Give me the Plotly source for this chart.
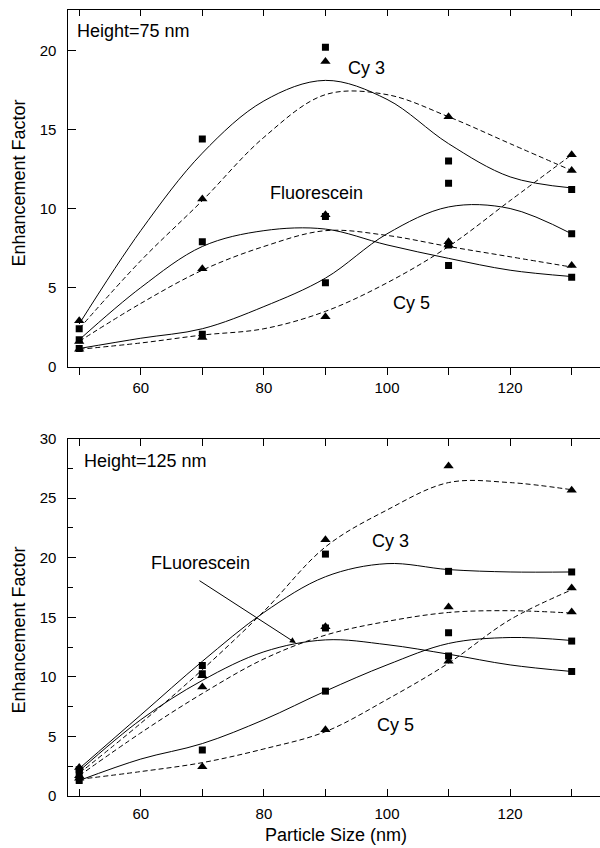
import plotly.graph_objects as go

# Particle sizes where enhancement was measured (nm)
sizes = [50, 70, 90, 110, 130]
# Sizes at which the smooth fit curves are sampled (nm)
fit_sizes = [50, 60, 70, 80, 90, 100, 110, 120, 130]

# ---- Height = 75 nm ----
cy3_sq_75 = [2.4, 14.4, 20.2, 13.0, 11.2]
cy3_sq_75_extra_x = [110]
cy3_sq_75_extra = [11.6]
cy3_tr_75 = [2.9, 10.6, 19.3, 15.8, 12.4]
fl_sq_75 = [1.7, 7.9, 9.5, 6.4, 5.65]
fl_tr_75 = [1.6, 6.2, 9.6, 7.9, 6.4]
cy5_sq_75 = [1.15, 2.05, 5.3, 7.7, 8.4]
cy5_tr_75 = [1.1, 1.85, 3.15, 7.7, 13.4]

cy3_fit_sq_75 = [2.7, 8.6, 13.5, 16.8, 18.1, 16.9, 14.1, 12.0, 11.3]
cy3_fit_tr_75 = [2.4, 6.7, 10.5, 14.5, 17.2, 17.2, 15.8, 14.1, 12.4]
fl_fit_sq_75 = [1.7, 5.0, 7.6, 8.6, 8.7, 7.7, 6.85, 6.1, 5.7]
fl_fit_tr_75 = [1.6, 4.0, 6.1, 7.6, 8.6, 8.3, 7.6, 6.95, 6.3]
cy5_fit_sq_75 = [1.15, 1.8, 2.4, 3.8, 5.6, 8.4, 10.1, 10.0, 8.4]
cy5_fit_tr_75 = [1.1, 1.5, 2.0, 2.4, 3.5, 5.3, 7.6, 10.5, 13.4]

# ---- Height = 125 nm ----
cy3_sq_125 = [2.2, 10.95, 20.3, 18.85, 18.8]
cy3_tr_125 = [2.4, 10.1, 21.5, 27.7, 25.65]
fl_sq_125 = [1.9, 10.25, 14.1, 11.75, 10.45]
fl_tr_125 = [1.7, 9.15, 14.2, 15.85, 15.45]
cy5_sq_125 = [1.3, 3.85, 8.8, 13.7, 13.0]
cy5_tr_125 = [1.5, 2.45, 5.55, 11.3, 17.45]

cy3_fit_sq_125 = [2.3, 6.8, 11.3, 15.4, 18.4, 19.5, 19.0, 18.8, 18.8]
cy3_fit_tr_125 = [1.9, 6.1, 10.6, 15.5, 20.9, 24.0, 26.3, 26.3, 25.7]
fl_fit_sq_125 = [2.1, 6.4, 9.7, 12.1, 13.1, 12.7, 11.9, 11.0, 10.45]
fl_fit_tr_125 = [1.7, 5.3, 8.6, 11.5, 13.5, 14.65, 15.4, 15.55, 15.35]
cy5_fit_sq_125 = [1.3, 3.1, 4.4, 6.4, 8.8, 11.0, 12.8, 13.3, 13.05]
cy5_fit_tr_125 = [1.4, 2.05, 2.8, 3.95, 5.4, 8.1, 11.15, 14.8, 17.3]

FONT = "Liberation Sans, Arial, Helvetica, sans-serif"
W, H = 600, 848

fig = go.Figure()


def add_panel(xa, ya, fits_solid, fits_dash, pts_sq, pts_tr):
    for ys in fits_solid:
        fig.add_trace(go.Scatter(x=fit_sizes, y=ys, mode="lines", xaxis=xa, yaxis=ya,
                                 line=dict(color="black", width=1, shape="spline", smoothing=1.0),
                                 showlegend=False, hoverinfo="skip"))
    for ys in fits_dash:
        fig.add_trace(go.Scatter(x=fit_sizes, y=ys, mode="lines", xaxis=xa, yaxis=ya,
                                 line=dict(color="black", width=1, dash="5px,3px",
                                           shape="spline", smoothing=1.0),
                                 showlegend=False, hoverinfo="skip"))
    for xs, ys in pts_sq:
        fig.add_trace(go.Scatter(x=xs, y=ys, mode="markers", xaxis=xa, yaxis=ya,
                                 marker=dict(symbol="square", size=7, color="black"),
                                 showlegend=False))
    for xs, ys in pts_tr:
        fig.add_trace(go.Scatter(x=xs, y=ys, mode="markers", xaxis=xa, yaxis=ya,
                                 marker=dict(symbol="triangle-up", size=9, color="black"),
                                 showlegend=False))


add_panel("x", "y",
          [cy3_fit_sq_75, fl_fit_sq_75, cy5_fit_sq_75],
          [cy3_fit_tr_75, fl_fit_tr_75, cy5_fit_tr_75],
          [(sizes, cy3_sq_75), (cy3_sq_75_extra_x, cy3_sq_75_extra), (sizes, fl_sq_75), (sizes, cy5_sq_75)],
          [(sizes, cy3_tr_75), (sizes, fl_tr_75), (sizes, cy5_tr_75)])

add_panel("x2", "y2",
          [cy3_fit_sq_125, fl_fit_sq_125, cy5_fit_sq_125],
          [cy3_fit_tr_125, fl_fit_tr_125, cy5_fit_tr_125],
          [(sizes, cy3_sq_125), (sizes, fl_sq_125), (sizes, cy5_sq_125)],
          [(sizes, cy3_tr_125), (sizes, fl_tr_125), (sizes, cy5_tr_125)])

# pixel geometry of the two frames
x_dom = [67.5 / W, 1.0]
top_dom = [1 - 366.7 / H, 1 - 10 / H]
bot_dom = [1 - 796 / H, 1 - 438.5 / H]
x_range = [48.1, 134.6]

tickfont = dict(family=FONT, size=15, color="black")


def xaxis_common(dom_anchor, ticks_dir, **kw):
    d = dict(domain=x_dom, range=x_range, anchor=dom_anchor, showgrid=False, zeroline=False,
             showline=True, linecolor="black", linewidth=1.3,
             ticks=ticks_dir, ticklen=7, tickwidth=1.2, tickcolor="black",
             tick0=0, dtick=20, tickfont=tickfont,
             minor=dict(tick0=0, dtick=10, ticks=ticks_dir, ticklen=7, tickwidth=1.2, tickcolor="black"),
             automargin=False)
    d.update(kw)
    return d


def yaxis_common(dom, rng, minor_dtick, **kw):
    d = dict(domain=dom, range=rng, showgrid=False, zeroline=False,
             showline=True, linecolor="black", linewidth=1.3,
             ticks="inside", ticklen=8, tickwidth=1.2, tickcolor="black",
             tick0=0, dtick=5, tickfont=tickfont, ticklabelstandoff=7,
             automargin=False)
    if minor_dtick:
        d["minor"] = dict(tick0=0, dtick=minor_dtick, ticks="inside", ticklen=5,
                          tickwidth=1.2, tickcolor="black")
    d.update(kw)
    return d


fig.update_layout(
    width=W, height=H,
    margin=dict(l=0, r=0, t=0, b=0),
    paper_bgcolor="white", plot_bgcolor="white",
    font=dict(family=FONT, color="black"),
    xaxis=xaxis_common("y", "outside"),
    yaxis=yaxis_common(top_dom, [0, 22.55], None, anchor="x"),
    # inside ticks along the top edge of the upper frame
    xaxis3=dict(overlaying="x", side="top", anchor="y", domain=x_dom, range=x_range,
                showline=True, linecolor="black", linewidth=1.3, showgrid=False, zeroline=False,
                ticks="inside", ticklen=6, tickwidth=1.2, tickcolor="black",
                tick0=0, dtick=10, showticklabels=False),
    xaxis2=xaxis_common("y2", "inside", mirror="ticks", ticklabelstandoff=4),
    yaxis2=yaxis_common(bot_dom, [0, 30], 2.5, anchor="x2"),
)

# invisible trace to activate the top-edge axis
fig.add_trace(go.Scatter(x=[None], y=[None], xaxis="x3", yaxis="y", showlegend=False))

ann_font = dict(family=FONT, size=18, color="black")
annotations = [
    dict(text="Height=75 nm", x=49.35, y=21.2, xref="x", yref="y", xanchor="left",
         showarrow=False, font=ann_font),
    dict(text="Cy 3", x=96.75, y=18.9, xref="x", yref="y", showarrow=False, font=ann_font),
    dict(text="Fluorescein", x=88.6, y=11.0, xref="x", yref="y", showarrow=False, font=ann_font),
    dict(text="Cy 5", x=103.9, y=4.03, xref="x", yref="y", showarrow=False, font=ann_font),
    dict(text="Height=125 nm", x=50.44, y=28.1, xref="x2", yref="y2", xanchor="left",
         showarrow=False, font=ann_font),
    dict(text="Cy 3", x=100.5, y=21.4, xref="x2", yref="y2", showarrow=False, font=ann_font),
    dict(text="FLuorescein", x=69.66, y=19.55, xref="x2", yref="y2", showarrow=False, font=ann_font),
    dict(text="", x=85.2, y=12.83, xref="x2", yref="y2", ax=69.3, ay=18.15, axref="x2", ayref="y2",
         showarrow=True, arrowhead=2, arrowsize=1.2, arrowwidth=1, arrowcolor="black"),
    dict(text="Cy 5", x=101.3, y=5.97, xref="x2", yref="y2", showarrow=False, font=ann_font),
    dict(text="Enhancement Factor", x=18.5 / W, y=1 - 183 / H, xref="paper", yref="paper",
         xanchor="center", yanchor="middle",
         textangle=-90, showarrow=False, font=ann_font),
    dict(text="Enhancement Factor", x=18.5 / W, y=1 - 630 / H, xref="paper", yref="paper",
         xanchor="center", yanchor="middle",
         textangle=-90, showarrow=False, font=ann_font),
    dict(text="Particle Size (nm)", x=336 / W, y=1 - 835 / H, xref="paper", yref="paper",
         xanchor="center", yanchor="middle", showarrow=False, font=ann_font),
]
fig.update_layout(annotations=annotations)

fig.write_html("out.html")
